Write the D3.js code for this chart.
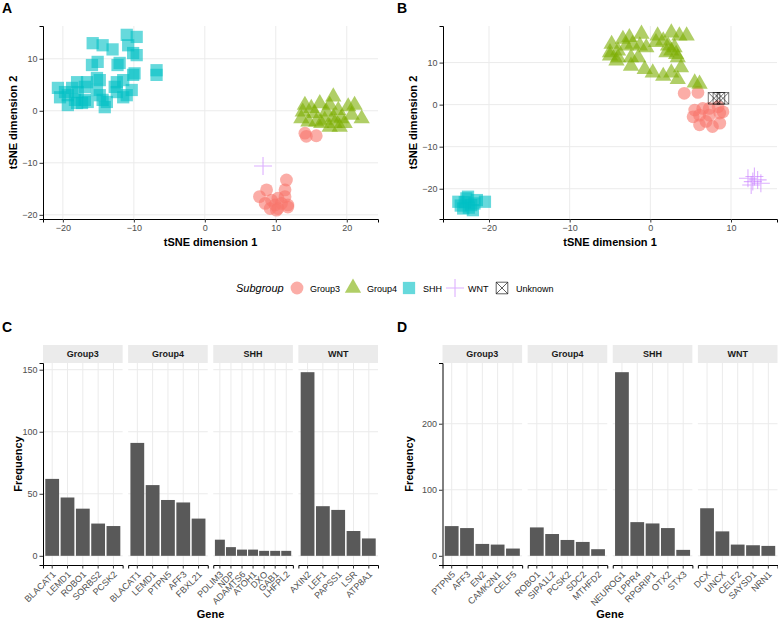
<!DOCTYPE html>
<html><head><meta charset="utf-8">
<script src="https://cdn.jsdelivr.net/npm/d3@7"></script>
<style>body{margin:0;background:#fff} text{font-family:"Liberation Sans",Arial,Helvetica,sans-serif}</style>
</head><body><svg id="c" width="778" height="620"></svg>
<script>
// ---------- DATA ----------
const subgroups = ["Group3","Group4","SHH","WNT","Unknown"];
const subColors = ["#F8766D","#7CAE00","#00BFC4","#C77CFF","#000000"];

// Panel A (tSNE 1, tSNE 2)
const aGroup3 = [[14.1,-4.3],[15.7,-4.8],[14.3,-4.9],[11.5,-13.3],[11.3,-15.2],[8.7,-15.2],[7.7,-16.5],[8.5,-17.8],[9.4,-17.2],[10.3,-16.8],[9.9,-18.1],[10.8,-17.8],[11.7,-18.1],[11.3,-16.5],[9.2,-18.8],[10.3,-18.8],[10.1,-19.1],[11.7,-18.5]];
const aGroup4 = [[14.1,1.1],[15.0,0.5],[16.2,1.4],[18.1,2.7],[17.6,1.1],[18.8,0.1],[20.2,0.8],[21.1,1.1],[22.1,-1.5],[19.2,-1.5],[18.3,-2.4],[16.9,-1.8],[15.7,-2.1],[14.6,-2.1],[13.6,-1.5],[13.8,-0.2],[15.5,-0.5],[17.1,-0.2],[18.1,-1.2],[19.7,-2.4],[20.7,-0.8],[17.6,-3.1],[19.0,-3.1],[16.4,-2.4]];
const aSHH = [[-15.8,13.0],[-14.4,12.6],[-13.0,11.8],[-11.0,14.6],[-9.6,14.2],[-10.8,12.6],[-10.1,11.1],[-9.6,10.7],[-15.9,8.8],[-15.1,9.4],[-12.3,8.8],[-12.0,9.2],[-10.1,6.9],[-9.9,7.2],[-6.8,7.8],[-6.8,6.9],[-15.2,6.3],[-14.8,5.9],[-16.6,5.5],[-18.0,5.5],[-20.7,4.4],[-19.7,3.6],[-18.7,4.4],[-17.9,3.6],[-16.9,4.6],[-20.4,2.6],[-19.3,3.0],[-18.3,2.1],[-17.3,1.5],[-16.5,1.7],[-19.3,1.1],[-18.0,1.5],[-16.9,2.1],[-15.2,4.0],[-14.8,3.0],[-14.4,2.1],[-14.1,0.7],[-13.8,1.7],[-12.7,4.6],[-12.4,3.6],[-11.5,2.6],[-11.0,3.0],[-10.3,4.0],[-12.4,5.5],[-11.5,5.9]];
const aWNT = [[8.2,-10.6]];
const aUnknown = [];

// Panel B
const bGroup3 = [[4.2,2.7],[5.9,2.9],[5.5,-1.3],[6.5,-0.9],[7.3,-0.9],[8.4,-0.5],[9.0,-1.7],[5.3,-2.9],[6.1,-2.5],[7.3,-2.5],[8.6,-2.0],[6.1,-4.8],[7.7,-5.2],[8.6,-4.4],[6.9,-4.0]];
const bGroup4 = [[-4.8,14.4],[-3.4,15.6],[-2.6,16.0],[-1.1,16.8],[0.9,16.4],[2.6,17.1],[3.6,16.4],[4.5,16.4],[-5.0,12.4],[-4.0,12.8],[-3.0,14.0],[-2.2,14.4],[-1.3,14.0],[-0.5,13.6],[0.7,14.8],[1.6,15.2],[2.2,14.0],[-5.0,11.6],[-4.0,11.2],[-2.4,11.2],[-1.5,11.2],[2.6,12.8],[3.2,12.0],[3.4,11.2],[-4.2,10.4],[-2.4,9.2],[-0.7,8.4],[0.3,7.6],[1.6,6.8],[2.6,7.6],[3.8,8.8],[3.4,6.0],[5.5,5.2],[6.1,4.9],[2.0,12.4],[3.0,13.6]];
const bSHH = [[-23.8,-23.1],[-22.8,-22.3],[-22.2,-23.9],[-21.5,-22.7],[-20.5,-23.1],[-23.2,-24.7],[-22.0,-25.1],[-22.6,-21.9],[-23.5,-24.0],[-22.5,-24.5],[-21.8,-23.5],[-23.0,-23.2]];
const bWNT = [[12.1,-17.5],[12.7,-18.3],[13.3,-17.9],[13.7,-18.7],[12.9,-17.1],[12.5,-19.1]];
const bUnknown = [[7.9,1.5],[8.5,1.5],[9.0,1.5]];

const aXTicks = [-20,-10,0,10,20], aYTicks = [-20,-10,0,10];
const bXTicks = [-20,-10,0,10], bYTicks = [-20,-10,0,10];

// Panel C (frequency by gene, faceted by subgroup)
const facets = ["Group3","Group4","SHH","WNT"];
const cGroup3Genes = ["BLACAT1","LEMD1","ROBO1","SORBS2","PCSK2"];
const cGroup3Freq  = [62,47,38,26,24];
const cGroup4Genes = ["BLACAT1","LEMD1","PTPN5","AFF3","FBXL21"];
const cGroup4Freq  = [91,57,45,43,30];
const cSHHGenes = ["PDLIM3","NDP","ADAMTS6","ATOH1","DXO","GAB1","LHFPL2"];
const cSHHFreq  = [13,7,5,5,4,4,4];
const cWNTGenes = ["AXIN2","LEF1","PAPSS1","LSR","ATP8A1"];
const cWNTFreq  = [148,40,37,20,14];
const cYTicks = [0,50,100,150];

// Panel D
const dGroup3Genes = ["PTPN5","AFF3","EN2","CAMK2N1","CELF5"];
const dGroup3Freq  = [45,42,18,17,11];
const dGroup4Genes = ["ROBO1","SIPA1L2","PCSK2","SDC2","MTHFD2"];
const dGroup4Freq  = [43,33,24,21,10];
const dSHHGenes = ["NEUROG1","LPPR4","RPGRIP1","OTX2","STX3"];
const dSHHFreq  = [278,51,49,42,9];
const dWNTGenes = ["DCX","UNCX","CELF2","SAYSD1","NRN1"];
const dWNTFreq  = [72,37,17,16,15];
const dYTicks = [0,100,200];

// ---------- DRAW ----------
const svg = d3.select("#c");
const GRID = "#ebebeb", TICKTXT = "#4d4d4d", ALPHA = 0.6;

function drawShape(g, type, cx, cy, color, legend) {
  if (type === "Group3") {
    g.append("circle").attr("cx",cx).attr("cy",cy).attr("r",6.4).attr("fill",color).attr("fill-opacity",ALPHA);
  } else if (type === "Group4") {
    g.append("path").attr("transform",`translate(${cx},${cy})`).attr("d",d3.symbol(d3.symbolTriangle,115)()).attr("fill",color).attr("fill-opacity",ALPHA);
  } else if (type === "SHH") {
    g.append("path").attr("transform",`translate(${cx},${cy})`).attr("d",d3.symbol(d3.symbolSquare,150)()).attr("fill",color).attr("fill-opacity",ALPHA);
  } else if (type === "WNT") {
    const s = 9;
    g.append("path").attr("d",`M${cx-s},${cy}H${cx+s}M${cx},${cy-s}V${cy+s}`).attr("stroke",color).attr("stroke-opacity",ALPHA).attr("stroke-width",1.1).attr("fill","none");
  } else {
    const s = 5.8;
    g.append("path").attr("d",`M${cx-s},${cy-s}H${cx+s}V${cy+s}H${cx-s}Z M${cx-s},${cy-s}L${cx+s},${cy+s}M${cx+s},${cy-s}L${cx-s},${cy+s}`)
      .attr("stroke",color).attr("stroke-opacity",legend?0.7:ALPHA).attr("stroke-width",0.9).attr("fill","none");
  }
}

function styleAxis(ax) {
  ax.select(".domain").attr("stroke","#000").attr("stroke-width",1);
  ax.selectAll(".tick line").attr("stroke","#333").attr("stroke-width",1);
  ax.selectAll(".tick text").attr("fill",TICKTXT).attr("font-size",9);
}

function scatter(cfg) {
  const g = svg.append("g");
  const x = d3.scaleLinear().domain(cfg.xd).range([cfg.l, cfg.r]);
  const y = d3.scaleLinear().domain(cfg.yd).range([cfg.b, cfg.t]);
  g.selectAll(".gx").data(cfg.xt).join("line").attr("x1",d=>x(d)).attr("x2",d=>x(d)).attr("y1",cfg.t).attr("y2",cfg.b).attr("stroke",GRID);
  g.selectAll(".gy").data(cfg.yt).join("line").attr("y1",d=>y(d)).attr("y2",d=>y(d)).attr("x1",cfg.l).attr("x2",cfg.r).attr("stroke",GRID);
  const order = ["Group3","Group4","SHH","WNT","Unknown"];
  order.forEach((k,i) => {
    cfg.data[k].forEach(p => drawShape(g, k, x(p[0]), y(p[1]), subColors[i]));
  });
  const ax = g.append("g").attr("transform",`translate(0,${cfg.b})`).call(d3.axisBottom(x).tickValues(cfg.xt).tickSizeOuter(0).tickSize(3.5).tickPadding(2));
  styleAxis(ax);
  const ay = g.append("g").attr("transform",`translate(${cfg.l},0)`).call(d3.axisLeft(y).tickValues(cfg.yt).tickSizeOuter(0).tickSize(3.5).tickPadding(2));
  styleAxis(ay);
  g.append("text").attr("x",(cfg.l+cfg.r)/2).attr("y",cfg.b+27).attr("text-anchor","middle").attr("font-weight","bold").attr("font-size",11).text("tSNE dimension 1");
  g.append("text").attr("transform",`translate(${cfg.ytx},${(cfg.t+cfg.b)/2}) rotate(-90)`).attr("text-anchor","middle").attr("font-weight","bold").attr("font-size",11).text("tSNE dimension 2");
}

scatter({l:43,r:378,t:26,b:219,xd:[-22.8,24.4],yd:[-20.8,16.3],xt:aXTicks,yt:aYTicks,ytx:17,
  data:{Group3:aGroup3,Group4:aGroup4,SHH:aSHH,WNT:aWNT,Unknown:aUnknown}});
scatter({l:443,r:777,t:26,b:219,xd:[-25.7,15.7],yd:[-27.2,18.7],xt:bXTicks,yt:bYTicks,ytx:417,
  data:{Group3:bGroup3,Group4:bGroup4,SHH:bSHH,WNT:bWNT,Unknown:bUnknown}});

// Legend
(function(){
  const g = svg.append("g");
  const ly = 288;
  g.append("text").attr("x",236).attr("y",ly+4).attr("font-style","italic").attr("font-size",11).text("Subgroup");
  const keyX = [297,353,409,455,502], txtX = [310,367,423,468,516];
  subgroups.forEach((s,i) => {
    drawShape(g, s, keyX[i], ly, subColors[i], true);
    g.append("text").attr("x",txtX[i]).attr("y",ly+3.5).attr("font-size",9).attr("fill","#000").text(s);
  });
})();

// Bar panels
function bars(cfg) {
  const g = svg.append("g");
  const maxV = d3.max(cfg.freqs.flat());
  const y = d3.scaleLinear().domain([-0.05*maxV, maxV*1.05]).range([cfg.b, cfg.t]);
  const gap = 5.5, fw = (cfg.r - cfg.l - gap*3)/4;
  facets.forEach((f,i) => {
    const fx = cfg.l + i*(fw+gap);
    const x = d3.scaleBand().domain(cfg.genes[i]).range([fx, fx+fw]).paddingInner(0.1).paddingOuter(0.15);
    g.selectAll(null).data(cfg.yt).join("line").attr("x1",fx).attr("x2",fx+fw).attr("y1",d=>y(d)).attr("y2",d=>y(d)).attr("stroke",GRID);
    g.selectAll(null).data(cfg.genes[i]).join("line").attr("x1",d=>x(d)+x.bandwidth()/2).attr("x2",d=>x(d)+x.bandwidth()/2).attr("y1",cfg.t).attr("y2",cfg.b).attr("stroke",GRID);
    g.selectAll(null).data(cfg.genes[i].map((gn,j)=>[gn,cfg.freqs[i][j]])).join("rect")
      .attr("x",d=>x(d[0])).attr("width",x.bandwidth()).attr("y",d=>y(d[1])).attr("height",d=>y(0)-y(d[1])).attr("fill","#595959");
    g.append("rect").attr("x",fx).attr("y",cfg.t-18).attr("width",fw).attr("height",18).attr("fill","#ebebeb");
    g.append("text").attr("x",fx+fw/2).attr("y",cfg.t-6).attr("text-anchor","middle").attr("font-weight","bold").attr("font-size",9).attr("fill","#1a1a1a").text(f);
    const ax = g.append("g").attr("transform",`translate(0,${cfg.b})`).call(d3.axisBottom(x).tickSizeOuter(0).tickSize(3.5));
    styleAxis(ax);
    ax.selectAll(".tick text").attr("y",null).attr("dy",null).attr("text-anchor","end").attr("font-size",9)
      .attr("transform","translate(4,10) rotate(-45)");
  });
  const ay = g.append("g").attr("transform",`translate(${cfg.l},0)`).call(d3.axisLeft(y).tickValues(cfg.yt).tickSizeOuter(0).tickSize(3.5).tickPadding(2));
  styleAxis(ay);
  g.append("text").attr("x",(cfg.l+cfg.r)/2).attr("y",618).attr("text-anchor","middle").attr("font-weight","bold").attr("font-size",11).text("Gene");
  g.append("text").attr("transform",`translate(${cfg.ytx},${(cfg.t+cfg.b)/2}) rotate(-90)`).attr("text-anchor","middle").attr("font-weight","bold").attr("font-size",11).text("Frequency");
}

bars({l:43,r:378,t:363,b:565,ytx:22,yt:cYTicks,
  genes:[cGroup3Genes,cGroup4Genes,cSHHGenes,cWNTGenes],freqs:[cGroup3Freq,cGroup4Freq,cSHHFreq,cWNTFreq]});
bars({l:442.5,r:777.5,t:363,b:565,ytx:413,yt:dYTicks,
  genes:[dGroup3Genes,dGroup4Genes,dSHHGenes,dWNTGenes],freqs:[dGroup3Freq,dGroup4Freq,dSHHFreq,dWNTFreq]});

// Panel letters
[["A",2,13],["B",397,13],["C",2,332],["D",397,332]].forEach(d=>{
  svg.append("text").attr("x",d[1]).attr("y",d[2]).attr("font-weight","bold").attr("font-size",14).text(d[0]);
});
</script></body></html>
